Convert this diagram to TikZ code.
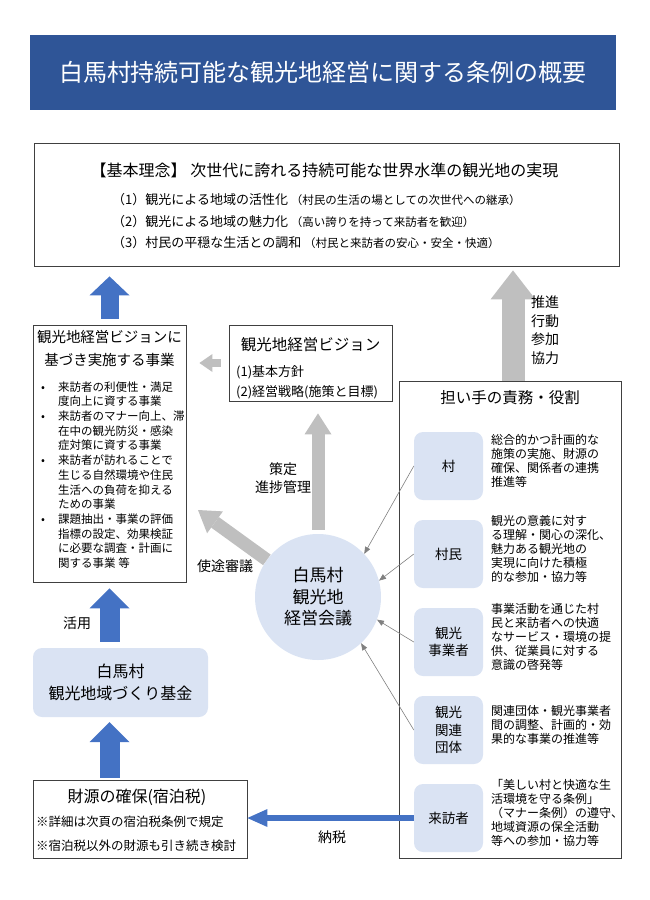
\documentclass[tikz,border=0pt]{standalone}
\usepackage{fontspec}
\setmainfont{Noto Sans CJK JP}
\usetikzlibrary{positioning,arrows.meta}
\definecolor{titleBlue}{RGB}{47,85,151}
\definecolor{arrowBlue}{RGB}{68,114,196}
\definecolor{arrowGray}{RGB}{191,191,191}
\definecolor{lineGray}{RGB}{128,128,128}
\definecolor{paleBlue}{RGB}{218,227,243}
\definecolor{frameColor}{RGB}{64,64,64}
\tikzstyle{canvas} = [x = 1pt, y = -1pt]
\tikzstyle{frameBox} = [draw=frameColor, line width=.8pt, inner sep=0pt]
\tikzstyle{paleBox} = [fill=paleBlue, rounded corners=9pt, inner sep=0pt, align=center]
\tikzstyle{roleBox} = [paleBox, minimum width=69pt, minimum height=68pt, font=\fontsize{13.5}{17.5}\selectfont]
\tikzstyle{roleText} = [anchor=west, align=left, inner sep=0pt, font=\fontsize{12}{13.8}\selectfont]
\tikzstyle{labelText} = [inner sep=0pt, align=center, font=\fontsize{14}{18.5}\selectfont]
\tikzstyle{thinArrow} = [draw=lineGray, line width=.6pt, -{Triangle[length=7pt, width=5.5pt]}]
\tikzset{
  blockArrow/.style n args={4}{draw=#1, line width=#2, -{Triangle[width=#3, length=#4, line width=0pt]}}
}
\newcommand{\roleEntry}[5]{
  \node[roleBox] (#1) at (448.5, #2) {#3};
  \node[roleText] (#1Text) at (491, #2 - 5) {#4};
}

\begin{document}
\begin{tikzpicture}[canvas]
  \useasboundingbox (0, 0) rectangle (650, 900);

  \node[fill=titleBlue, minimum width=586pt, minimum height=75pt, text=white, font=\fontsize{24}{28}\selectfont] (banner) at (323, 72.5) {白馬村持続可能な観光地経営に関する条例の概要};

  \node[frameBox, minimum width=585pt, minimum height=123pt] (kihon) at (326.5, 204.5) {};
  \node[inner sep=0pt, font=\fontsize{16}{20}\selectfont] (kihonTitle) at (324.5, 170) {【基本理念】 次世代に誇れる持続可能な世界水準の観光地の実現};
  \node[anchor=west, inner sep=0pt, align=left, font=\fontsize{13}{21.5}\selectfont] (kihonItems) at (112, 221.5) {%
    （1）観光による地域の活性化 {\fontsize{11.5}{21.5}\selectfont（村民の生活の場としての次世代への継承）}\\
    （2）観光による地域の魅力化 {\fontsize{11.5}{21.5}\selectfont（高い誇りを持って来訪者を歓迎）}\\
    （3）村民の平穏な生活との調和 {\fontsize{11.5}{21.5}\selectfont（村民と来訪者の安心・安全・快適）}};

  \node[frameBox, minimum width=153pt, minimum height=257pt] (jigyo) at (109.5, 453.5) {};
  \node[inner sep=0pt, align=center, font=\fontsize{14.5}{23}\selectfont] (jigyoTitle) at (109.5, 348.5) {観光地経営ビジョンに\\基づき実施する事業};
  \node[anchor=west, inner sep=0pt, align=left, font=\fontsize{11.5}{14.7}\selectfont] (jigyoList) at (37, 475) {%
    \makebox[21pt][l]{\hspace{4pt}•}来訪者の利便性・満足\\
    \hspace{21pt}度向上に資する事業\\
    \makebox[21pt][l]{\hspace{4pt}•}来訪者のマナー向上、滞\\
    \hspace{21pt}在中の観光防災・感染\\
    \hspace{21pt}症対策に資する事業\\
    \makebox[21pt][l]{\hspace{4pt}•}来訪者が訪れることで\\
    \hspace{21pt}生じる自然環境や住民\\
    \hspace{21pt}生活への負荷を抑える\\
    \hspace{21pt}ための事業\\
    \makebox[21pt][l]{\hspace{4pt}•}課題抽出・事業の評価\\
    \hspace{21pt}指標の設定、効果検証\\
    \hspace{21pt}に必要な調査・計画に\\
    \hspace{21pt}関する事業 等};

  \node[frameBox, minimum width=163pt, minimum height=76pt] (vision) at (310.5, 363) {};
  \node[inner sep=0pt, font=\fontsize{15.5}{20}\selectfont] (visionTitle) at (310.5, 345) {観光地経営ビジョン};
  \node[anchor=west, inner sep=0pt, align=left, font=\fontsize{13}{20}\selectfont] (visionItems) at (236, 382) {(1)基本方針\\(2)経営戦略(施策と目標)};

  \node[circle, fill=paleBlue, minimum size=126pt, inner sep=0pt, align=center, font=\fontsize{17}{21.5}\selectfont] (council) at (318, 597) {白馬村\\観光地\\経営会議};

  \node[frameBox, minimum width=222pt, minimum height=477pt] (yakuwari) at (510, 619.5) {};
  \node[inner sep=0pt, font=\fontsize{15.5}{20}\selectfont] (yakuwariTitle) at (510, 398) {担い手の責務・役割};

  \roleEntry{mura}{466}{村}{総合的かつ計画的な\\施策の実施、財源の\\確保、関係者の連携\\推進等}{}
  \roleEntry{sonmin}{554}{村民}{観光の意義に対す\\る理解・関心の深化、\\魅力ある観光地の\\実現に向けた積極\\的な参加・協力等}{}
  \roleEntry{jigyosha}{642}{観光\\事業者}{事業活動を通じた村\\民と来訪者への快適\\なサービス・環境の提\\供、従業員に対する\\意識の啓発等}{}
  \roleEntry{dantai}{730}{観光\\関連\\団体}{関連団体・観光事業者\\間の調整、計画的・効\\果的な事業の推進等}{}
  \roleEntry{raihosha}{818}{来訪者}{「美しい村と快適な生\\活環境を守る条例」\\（マナー条例）の遵守、\\地域資源の保全活動\\等への参加・協力等}{}

  \node[paleBox, minimum width=175pt, minimum height=69pt, font=\fontsize{16}{22}\selectfont] (kikin) at (120.5, 682.5) {白馬村\\観光地域づくり基金};

  \node[frameBox, minimum width=214pt, minimum height=78pt] (zaigen) at (140, 819) {};
  \node[inner sep=0pt, font=\fontsize{16}{20}\selectfont] (zaigenTitle) at (137, 797) {財源の確保(宿泊税)};
  \node[anchor=west, inner sep=0pt, align=left, font=\fontsize{12.5}{24}\selectfont] (zaigenNotes) at (36, 834) {※詳細は次頁の宿泊税条例で規定\\※宿泊税以外の財源も引き続き検討};

  \draw[blockArrow={arrowBlue}{18pt}{40pt}{19pt}] ([yshift=6pt]jigyo.north) -- ([yshift=-10pt]jigyo.north |- kihon.south);
  \draw[blockArrow={arrowBlue}{20pt}{40pt}{20pt}] ([yshift=6pt]jigyo.south |- kikin.north) -- ([yshift=-6pt]jigyo.south);
  \draw[blockArrow={arrowBlue}{20pt}{40pt}{20pt}] ([yshift=2pt]jigyo.south |- zaigen.north) -- ([yshift=-5pt]jigyo.south |- kikin.south);
  \draw[blockArrow={arrowBlue}{6pt}{18pt}{20pt}] (raihosha.west) -- (raihosha.west -| zaigen.east);

  \draw[blockArrow={arrowGray}{8pt}{18pt}{13pt}] ([xshift=-8pt]vision.west) -- ([xshift=13pt]vision.west -| jigyo.east);
  \draw[blockArrow={arrowGray}{13pt}{27pt}{21pt}] ([yshift=4pt]council.north) -- ([yshift=-12pt]council.north |- vision.south);
  \coordinate (shitoTip) at (198, 510);
  \draw[blockArrow={arrowGray}{13pt}{27pt}{21pt}] (council.144) -- (shitoTip);
  \draw[blockArrow={arrowGray}{23pt}{45pt}{29pt}] ([xshift=3pt]yakuwari.north) -- ([xshift=3pt, yshift=-4pt]yakuwari.north |- kihon.south);

  \draw[thinArrow] (mura.west) -- (council.43);
  \draw[thinArrow] (sonmin.west) -- (council.15);
  \draw[thinArrow] (jigyosha.west) -- (council.-21);
  \draw[thinArrow] (dantai.west) -- (council.-47);

  \node[labelText] (suishin) at (545, 330) {推進\\行動\\参加\\協力};
  \node[labelText] (sakutei) at (283, 478) {策定\\進捗管理};
  \node[labelText] (shito) at (225, 566) {使途審議};
  \node[labelText] (katsuyo) at (77, 623) {活用};
  \node[labelText] (nozei) at (332, 837) {納税};
\end{tikzpicture}
\end{document}
